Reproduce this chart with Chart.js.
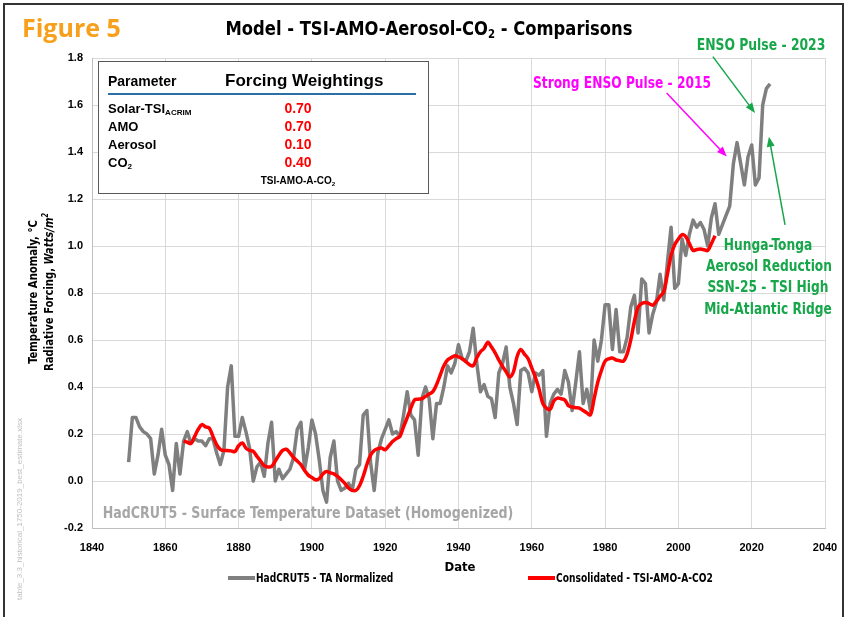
<!DOCTYPE html>
<html><head><meta charset="utf-8">
<script src="https://cdn.jsdelivr.net/npm/chart.js@4/dist/chart.umd.min.js"></script>
<style>
body{margin:0;background:#fff;}
#wrap{position:relative;width:848px;height:617px;overflow:hidden;font-family:"DejaVu Sans Condensed","Liberation Sans",sans-serif;}
#frame{position:absolute;left:3px;top:3px;width:841px;height:640px;border:2px solid #333;box-sizing:border-box;}
canvas{position:absolute;left:0;top:0;}
.t{position:absolute;white-space:nowrap;font-weight:bold;line-height:1;}
.box{position:absolute;left:98px;top:61px;width:331px;height:133px;border:1.5px solid #595959;background:#fff;box-sizing:border-box;font-family:"Liberation Sans",Arial,sans-serif;}
.box .t{transform:translateY(-50%);}
.c{transform:translate(-50%,-50%)!important;}
sub{font-size:62%;vertical-align:-0.25em;line-height:0;}
</style></head>
<body>
<div id="wrap">
<canvas id="c" width="848" height="617"></canvas>
<div id="frame"></div>
<div class="t" style="left:22px;top:15px;font-family:'Open Sans',sans-serif;font-size:25px;color:#f7a01c;">Figure 5</div>
<div class="t" style="left:429px;top:28px;transform:translate(-50%,-50%) scaleX(0.91);font-size:20px;color:#000;">Model - TSI-AMO-Aerosol-CO<sub>2</sub> - Comparisons</div>
<div class="t" style="left:761px;top:45px;transform:translate(-50%,-50%) scaleX(0.86);font-size:16px;color:#17a74a;">ENSO Pulse - 2023</div>
<div class="t" style="left:622px;top:83px;transform:translate(-50%,-50%) scaleX(0.85);font-size:16px;color:#ff00ff;">Strong ENSO Pulse - 2015</div>
<div class="t" style="left:768px;top:245px;transform:translate(-50%,-50%) scaleX(0.85);font-size:16px;color:#17a74a;">Hunga-Tonga</div>
<div class="t" style="left:769px;top:266px;transform:translate(-50%,-50%) scaleX(0.85);font-size:16px;color:#17a74a;">Aerosol Reduction</div>
<div class="t" style="left:768px;top:287px;transform:translate(-50%,-50%) scaleX(0.85);font-size:16px;color:#17a74a;">SSN-25 - TSI High</div>
<div class="t" style="left:768px;top:309px;transform:translate(-50%,-50%) scaleX(0.85);font-size:16px;color:#17a74a;">Mid-Atlantic Ridge</div>
<div class="t" style="left:308px;top:513px;transform:translate(-50%,-50%) scaleX(0.876);font-size:16px;color:#a6a6a6;">HadCRUT5 - Surface Temperature Dataset (Homogenized)</div>
<div class="box">
  <div class="t" style="left:9px;top:19px;font-size:14px;">Parameter</div>
  <div class="t" style="left:126px;top:18px;font-size:17px;">Forcing Weightings</div>
  <div style="position:absolute;left:9px;top:31px;width:308px;height:2px;background:#2b6fa6;"></div>
  <div class="t" style="left:9px;top:46px;font-size:13px;">Solar-TSI<sub>ACRIM</sub></div>
  <div class="t" style="left:9px;top:64px;font-size:13px;">AMO</div>
  <div class="t" style="left:9px;top:82px;font-size:13px;">Aerosol</div>
  <div class="t" style="left:9px;top:100px;font-size:13px;">CO<sub>2</sub></div>
  <div class="t c" style="left:199px;top:46px;font-size:14px;color:#ff0000;">0.70</div>
  <div class="t c" style="left:199px;top:64px;font-size:14px;color:#ff0000;">0.70</div>
  <div class="t c" style="left:199px;top:82px;font-size:14px;color:#ff0000;">0.10</div>
  <div class="t c" style="left:199px;top:100px;font-size:14px;color:#ff0000;">0.40</div>
  <div class="t c" style="left:199px;top:119px;font-size:10px;">TSI-AMO-A-CO<sub>2</sub></div>
</div>
<div class="t" style="left:41px;top:292px;transform:translate(-50%,-50%) rotate(-90deg) scaleX(0.86);font-size:13px;line-height:16px;text-align:center;">Temperature Anomaly, °C<br>Radiative Forcing, <i>Watts/m<sup style="font-size:65%;line-height:0;">2</sup></i></div>
<div class="t" style="left:20px;top:509px;transform:translate(-50%,-50%) rotate(-90deg);font-family:'Liberation Sans',sans-serif;font-weight:normal;font-size:8px;color:#bfbfbf;">table_3.3_historical_1750-2019_best_estimate.xlsx</div>
<div class="t c" style="left:460px;top:566px;font-size:13px;">Date</div>
<div style="position:absolute;left:228px;top:576px;width:27px;height:4px;background:#808080;"></div>
<div class="t" style="left:256px;top:572px;transform:scaleX(0.84);transform-origin:0 50%;font-size:12px;">HadCRUT5 - TA Normalized</div>
<div style="position:absolute;left:528px;top:576px;width:27px;height:4px;background:#ff0000;"></div>
<div class="t" style="left:556px;top:572px;transform:scaleX(0.845);transform-origin:0 50%;font-size:12px;">Consolidated - TSI-AMO-A-CO2</div>
</div>
<script>
// ---- data ----
const hadYears = [1850,1851,1852,1853,1854,1855,1856,1857,1858,1859,1860,1861,1862,1863,1864,1865,1866,1867,1868,1869,1870,1871,1872,1873,1874,1875,1876,1877,1878,1879,1880,1881,1882,1883,1884,1885,1886,1887,1888,1889,1890,1891,1892,1893,1894,1895,1896,1897,1898,1899,1900,1901,1902,1903,1904,1905,1906,1907,1908,1909,1910,1911,1912,1913,1914,1915,1916,1917,1918,1919,1920,1921,1922,1923,1924,1925,1926,1927,1928,1929,1930,1931,1932,1933,1934,1935,1936,1937,1938,1939,1940,1941,1942,1943,1944,1945,1946,1947,1948,1949,1950,1951,1952,1953,1954,1955,1956,1957,1958,1959,1960,1961,1962,1963,1964,1965,1966,1967,1968,1969,1970,1971,1972,1973,1974,1975,1976,1977,1978,1979,1980,1981,1982,1983,1984,1985,1986,1987,1988,1989,1990,1991,1992,1993,1994,1995,1996,1997,1998,1999,2000,2001,2002,2003,2004,2005,2006,2007,2008,2009,2010,2011,2012,2013,2014,2015,2016,2017,2018,2019,2020,2021,2022,2023,2024,2025];
const hadcrut = [0.08,0.27,0.27,0.23,0.21,0.20,0.18,0.03,0.11,0.22,0.11,0.07,-0.04,0.16,0.03,0.17,0.21,0.16,0.18,0.17,0.17,0.15,0.18,0.18,0.12,0.07,0.13,0.40,0.49,0.19,0.19,0.27,0.21,0.14,0.00,0.06,0.08,0.02,0.16,0.25,0.00,0.05,0.01,0.03,0.05,0.10,0.22,0.25,0.05,0.14,0.26,0.20,0.09,-0.04,-0.09,0.10,0.17,0.00,-0.04,-0.03,-0.01,-0.04,0.05,0.07,0.28,0.30,0.08,-0.04,0.12,0.18,0.22,0.26,0.20,0.21,0.19,0.28,0.38,0.28,0.26,0.11,0.35,0.40,0.35,0.18,0.33,0.33,0.40,0.49,0.46,0.50,0.58,0.52,0.51,0.55,0.65,0.50,0.38,0.41,0.36,0.35,0.27,0.46,0.50,0.57,0.40,0.33,0.24,0.47,0.48,0.46,0.38,0.46,0.45,0.47,0.19,0.33,0.37,0.39,0.37,0.47,0.42,0.30,0.42,0.55,0.33,0.39,0.30,0.60,0.51,0.60,0.75,0.75,0.56,0.73,0.55,0.55,0.61,0.74,0.79,0.63,0.86,0.84,0.63,0.71,0.76,0.88,0.77,0.93,1.08,0.82,0.84,1.03,0.96,1.05,1.11,1.08,1.10,1.07,1.00,1.12,1.18,1.05,1.09,1.13,1.17,1.35,1.44,1.35,1.26,1.38,1.43,1.26,1.29,1.60,1.67,1.69];
const modelYears = [1865,1866,1867,1868,1869,1870,1871,1872,1873,1874,1875,1876,1877,1878,1879,1880,1881,1882,1883,1884,1885,1886,1887,1888,1889,1890,1891,1892,1893,1894,1895,1896,1897,1898,1899,1900,1901,1902,1903,1904,1905,1906,1907,1908,1909,1910,1911,1912,1913,1914,1915,1916,1917,1918,1919,1920,1921,1922,1923,1924,1925,1926,1927,1928,1929,1930,1931,1932,1933,1934,1935,1936,1937,1938,1939,1940,1941,1942,1943,1944,1945,1946,1947,1948,1949,1950,1951,1952,1953,1954,1955,1956,1957,1958,1959,1960,1961,1962,1963,1964,1965,1966,1967,1968,1969,1970,1971,1972,1973,1974,1975,1976,1977,1978,1979,1980,1981,1982,1983,1984,1985,1986,1987,1988,1989,1990,1991,1992,1993,1994,1995,1996,1997,1998,1999,2000,2001,2002,2003,2004,2005,2006,2007,2008,2009,2010];
const model = [0.17,0.165,0.16,0.19,0.22,0.24,0.23,0.225,0.19,0.155,0.135,0.13,0.13,0.128,0.125,0.15,0.162,0.14,0.13,0.126,0.105,0.085,0.065,0.06,0.062,0.085,0.11,0.13,0.135,0.12,0.10,0.085,0.07,0.045,0.025,0.015,0.005,0.01,0.03,0.04,0.035,0.03,0.02,0.005,-0.01,-0.03,-0.04,-0.04,-0.02,0.02,0.07,0.11,0.13,0.138,0.14,0.133,0.15,0.168,0.18,0.19,0.23,0.27,0.31,0.345,0.348,0.35,0.36,0.37,0.38,0.41,0.45,0.49,0.515,0.525,0.533,0.528,0.52,0.508,0.495,0.49,0.525,0.55,0.565,0.59,0.57,0.545,0.515,0.488,0.465,0.443,0.465,0.53,0.56,0.54,0.52,0.48,0.44,0.39,0.33,0.31,0.305,0.34,0.353,0.35,0.345,0.32,0.315,0.312,0.31,0.30,0.29,0.282,0.35,0.42,0.47,0.51,0.52,0.523,0.515,0.512,0.51,0.54,0.60,0.68,0.74,0.755,0.76,0.755,0.748,0.765,0.786,0.805,0.88,0.96,1.006,1.03,1.048,1.04,1.01,0.981,0.985,0.987,0.984,0.981,1.01,1.044];
const xTicks = [1840,1860,1880,1900,1920,1940,1960,1980,2000,2020,2040];
const yTicks = [-0.2,0.0,0.2,0.4,0.6,0.8,1.0,1.2,1.4,1.6,1.8];
const arrows = [
  {from:[1996.8,1.651], to:[2013.2,1.381], color:'#ff00ff'},
  {from:[2009.4,1.806], to:[2020.9,1.566], color:'#17a74a'},
  {from:[2029.1,1.09], to:[2024.7,1.465], color:'#17a74a'}
];

const tickFont = {family:"'Liberation Sans', Arial, sans-serif", size:11, weight:'bold'};
const arrowPlugin = {
  id:'arrows',
  afterDatasetsDraw(chart){
    const {ctx, scales:{x,y}} = chart;
    ctx.save();
    arrows.forEach(a=>{
      const x1=x.getPixelForValue(a.from[0]), y1=y.getPixelForValue(a.from[1]);
      const x2=x.getPixelForValue(a.to[0]), y2=y.getPixelForValue(a.to[1]);
      const ang=Math.atan2(y2-y1,x2-x1), L=10, W=4;
      ctx.strokeStyle=a.color; ctx.fillStyle=a.color; ctx.lineWidth=1.5;
      ctx.beginPath(); ctx.moveTo(x1,y1); ctx.lineTo(x2-Math.cos(ang)*L*0.8,y2-Math.sin(ang)*L*0.8); ctx.stroke();
      ctx.beginPath(); ctx.moveTo(x2,y2);
      ctx.lineTo(x2-Math.cos(ang)*L+Math.sin(ang)*W, y2-Math.sin(ang)*L-Math.cos(ang)*W);
      ctx.lineTo(x2-Math.cos(ang)*L-Math.sin(ang)*W, y2-Math.sin(ang)*L+Math.cos(ang)*W);
      ctx.closePath(); ctx.fill();
    });
    ctx.restore();
  }
};

new Chart(document.getElementById('c'), {
  type:'line',
  data:{datasets:[
    {label:'Consolidated - TSI-AMO-A-CO2', data:modelYears.map((v,i)=>({x:v,y:model[i]})), borderColor:'#ff0000', borderWidth:3.5, pointRadius:0, tension:0.35, order:0, borderJoinStyle:'round'},
    {label:'HadCRUT5 - TA Normalized', data:hadYears.map((v,i)=>({x:v,y:hadcrut[i]})), borderColor:'#7f7f7f', borderWidth:3.5, pointRadius:0, tension:0, order:1, borderJoinStyle:'round'}
  ]},
  options:{
    responsive:false, animation:false, devicePixelRatio:1,
    layout:{padding:{left:52,right:23,top:58,bottom:59}},
    plugins:{legend:{display:false}, tooltip:{enabled:false}, title:{display:false}},
    scales:{
      x:{type:'linear', min:1840, max:2040,
         afterBuildTicks(s){ s.ticks = xTicks.map(v=>({value:v})); },
         afterFit(s){ s.height = 30; s.paddingLeft = 0; s.paddingRight = 0; },
         ticks:{font:tickFont, color:'#000', padding:13, maxRotation:0, autoSkip:false, callback:v=>String(v)},
         grid:{color:'#d9d9d9', drawTicks:false, lineWidth:1}, border:{color:'#bfbfbf', width:1}},
      y:{type:'linear', min:-0.2, max:1.8,
         afterBuildTicks(s){ s.ticks = yTicks.map(v=>({value:v})); },
         afterFit(s){ s.width = 40; s.paddingTop = 0; s.paddingBottom = 0; },
         ticks:{font:tickFont, color:'#000', padding:9, autoSkip:false, callback:v=>Number(v).toFixed(1)},
         grid:{color:'#d9d9d9', drawTicks:false, lineWidth:1}, border:{color:'#bfbfbf', width:1}}
    }
  },
  plugins:[arrowPlugin]
});
</script>
</body></html>
